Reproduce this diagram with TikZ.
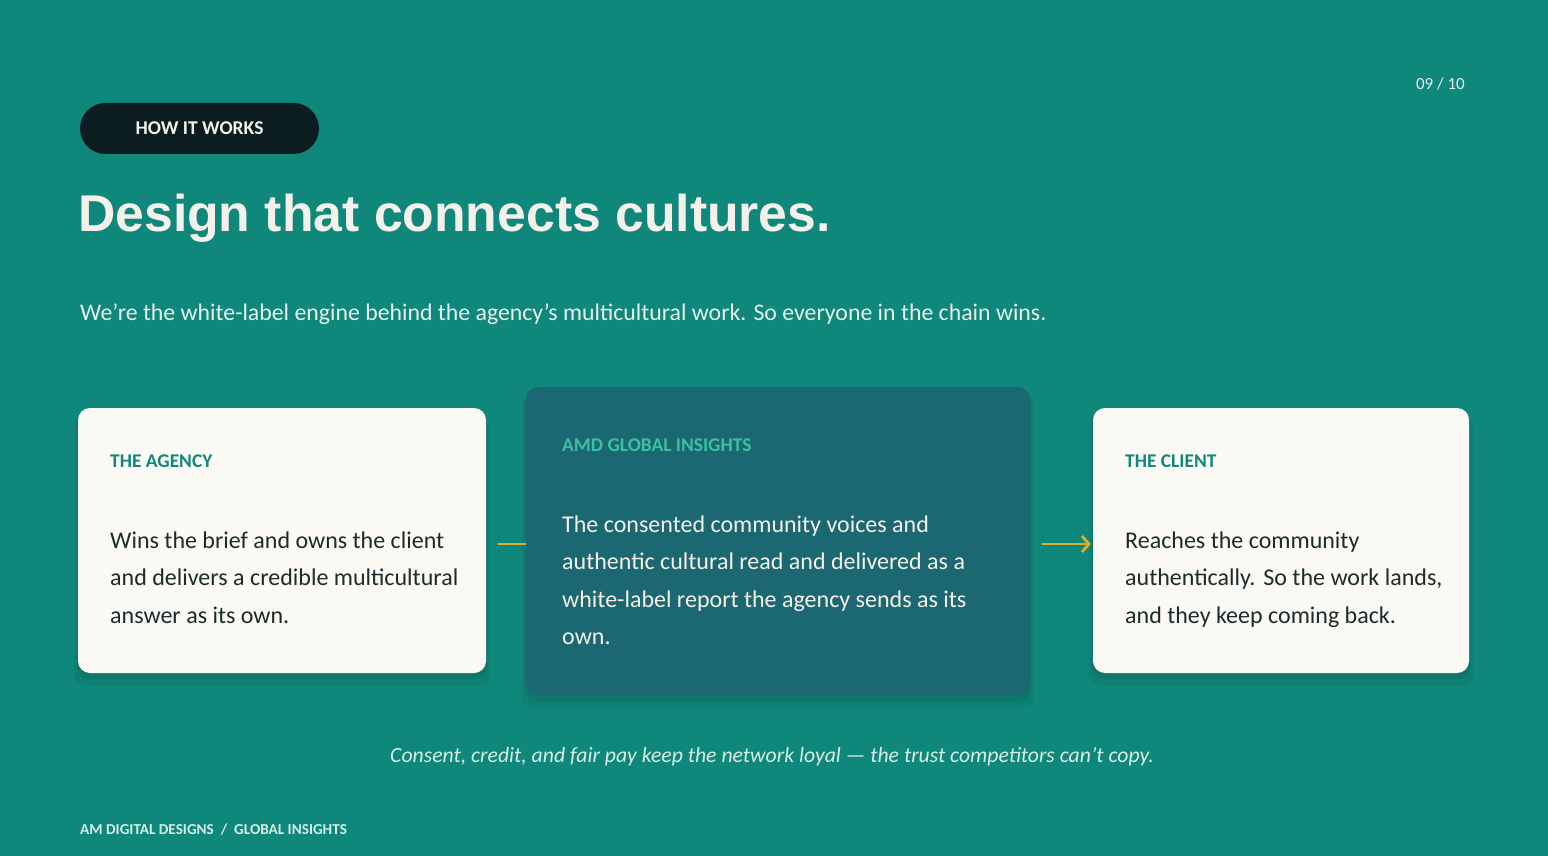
\documentclass[tikz,border=0pt]{standalone}
\usepackage{fontspec}
\setmainfont{Carlito}
\newfontfamily\titlefont{Liberation Sans}
\usetikzlibrary{arrows.meta,calc}
\definecolor{bg}{HTML}{0F877B}
\definecolor{midcard}{HTML}{1B6872}
\definecolor{cardw}{HTML}{FBF9F4}
\definecolor{pillc}{HTML}{0C1D21}
\definecolor{gold}{HTML}{D8B02A}
\definecolor{headteal}{HTML}{12877A}
\definecolor{headmint}{HTML}{3DBFA5}
\definecolor{darktext}{HTML}{1C2B2C}
\definecolor{lighttext}{HTML}{F4F1EA}
\definecolor{subtext}{HTML}{E4F1ED}
\definecolor{captext}{HTML}{D6EDE7}
\tikzset{
  card/.style={rounded corners=12pt, inner sep=0pt},
  whitecard/.style={card, fill=cardw},
  midcardstyle/.style={card, fill=midcard},
  cardhead/.style={font=\bfseries\fontsize{19.4}{23}\selectfont, inner sep=0pt, anchor=base west},
  bodytext/.style={font=\fontsize{24}{37.6}\selectfont, inner sep=0pt, anchor=base west},
  connector/.style={draw=gold, line width=2.8pt},
}
\begin{document}
\begin{tikzpicture}[x=1pt,y=-1pt]
\useasboundingbox (0,0) rectangle (1548,856);
\fill[bg] (0,0) rectangle (1548,856);

% shadows
\foreach \xa/\ya/\xb/\yb in {78/408/486/673, 526/387/1030/695, 1093/408/1469/673}{
  \fill[black, opacity=0.06, rounded corners=10pt] (\xa-4,\ya+8) rectangle (\xb+4,\yb+12);
  \fill[black, opacity=0.06, rounded corners=12pt] (\xa-1,\ya+4) rectangle (\xb+1,\yb+6);
}

% page number
\node[font=\fontsize{17}{20}\selectfont, text=subtext, anchor=base east, inner sep=0pt] (pagenum) at (1465,90) {09 / 10};

% pill
\node[fill=pillc, rounded corners=25.5pt, minimum width=239pt, minimum height=51pt, inner sep=0pt,
      font=\bfseries\fontsize{19.5}{23}\selectfont, text=lighttext] (pill) at (199.5,128.5) {\raisebox{-1.5pt}{HOW IT WORKS}};

% title
\node[font=\titlefont\bfseries\fontsize{51.7}{60}\selectfont, text=lighttext, anchor=base west, inner sep=0pt] (title) at (78,231) {Design that connects cultures.};

% subtitle
\node[font=\fontsize{23.8}{28}\selectfont, text=subtext, anchor=base west, inner sep=0pt] (subtitle) at (80,320) {We’re the white-label engine behind the agency’s multicultural work. So everyone in the chain wins.};

% cards
\node[whitecard, minimum width=408pt, minimum height=265pt] (agency) at (282,540.5) {};
\node[midcardstyle, minimum width=504pt, minimum height=308pt] (center) at (778,541) {};
\node[whitecard, minimum width=376pt, minimum height=265pt] (client) at (1281,540.5) {};

% card texts
\node[cardhead, text=headteal] (agencyhead) at (110,467) {THE AGENCY};
\node[bodytext, text=darktext] (agencybody) at (110,548) {\parbox[t]{380pt}{\raggedright Wins the brief and owns the client\\and delivers a credible multicultural\\answer as its own.}};

\node[cardhead, text=headmint] (centerhead) at (562,451) {AMD GLOBAL INSIGHTS};
\node[bodytext, text=lighttext] (centerbody) at (562,532) {\parbox[t]{440pt}{\raggedright The consented community voices and\\authentic cultural read and delivered as a\\white-label report the agency sends as its\\own.}};

\node[cardhead, text=headteal] (clienthead) at (1125,467) {THE CLIENT};
\node[bodytext, text=darktext] (clientbody) at (1125,548) {\parbox[t]{340pt}{\raggedright Reaches the community\\authentically.\hspace{8pt}So the work lands,\\and they keep coming back.}};

% connectors
\draw[connector] ($(agency.east)+(12,3.5)$) -- ($(center.west)+(0,3)$);
\draw[connector, -{Straight Barb[length=7pt,width=16pt]}] ($(center.east)+(12,3)$) -- ($(client.west)+(-2,3.5)$);

% caption
\node[font=\itshape\fontsize{21.7}{26}\selectfont, text=captext, anchor=base, inner sep=0pt] (caption) at (772,762) {Consent, credit, and fair pay keep the network loyal — the trust competitors can’t copy.};

% footer
\node[font=\bfseries\fontsize{15.2}{18}\selectfont, text=captext, anchor=base west, inner sep=0pt] (footer) at (80,834) {AM DIGITAL DESIGNS\ \ /\ \ GLOBAL INSIGHTS};
\end{tikzpicture}
\end{document}
